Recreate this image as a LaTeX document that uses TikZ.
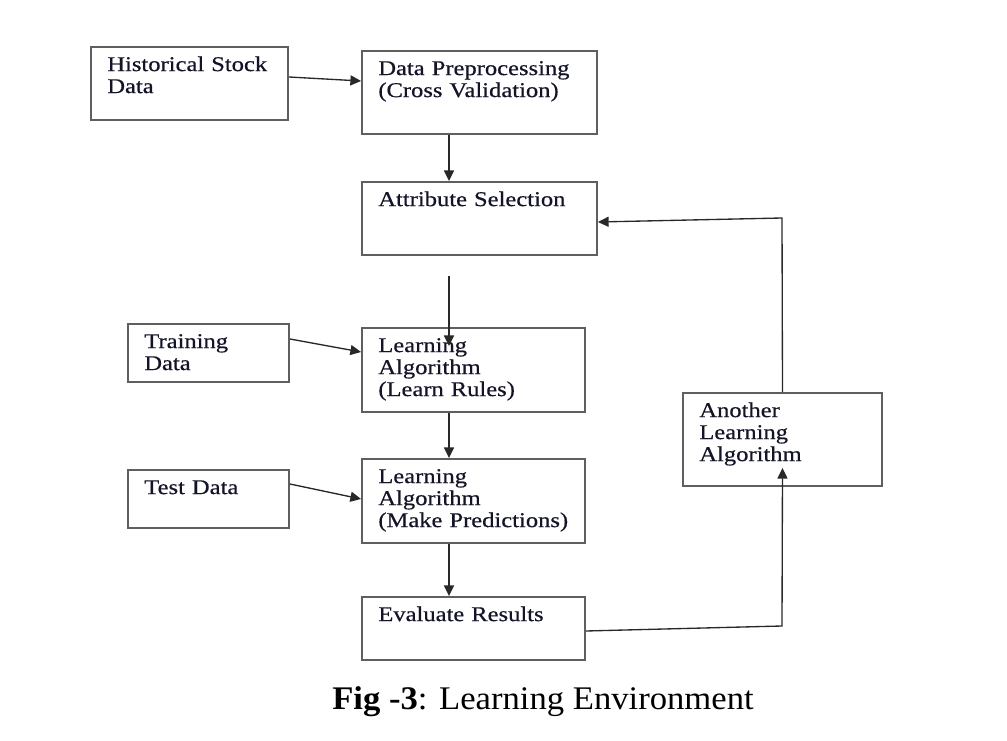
\documentclass[tikz,border=0pt]{standalone}
\usepackage{fontspec}
\setmainfont{Liberation Serif}[FakeStretch=1.17,FakeBold=0.5]
\newfontfamily\capfont{Liberation Serif}[FakeStretch=1.05]
\usetikzlibrary{arrows.meta,fit}
\begin{document}
\begin{tikzpicture}[x=0.75pt,y=-0.75pt,
  box/.style={draw={rgb,255:red,95;green,95;blue,95},line width=1.4pt,inner sep=0pt},
  lbl/.style={anchor=base west,align=left,text width=5.5cm,inner sep=0pt,
    font=\fontsize{15.75}{16.5}\selectfont,text={rgb,255:red,20;green,20;blue,40}},
  arr/.style={draw={rgb,255:red,40;green,40;blue,40},line width=1pt,
    -{Triangle[length=8pt,width=7.5pt]}},
  captext/.style={anchor=base,inner sep=0pt,font=\capfont\fontsize{24.75}{28}\selectfont}]
\useasboundingbox[fill=white] (0,0) rectangle (1007,741);
% boxes
\node[box,fit={(91,47) (288,120)}] (b1) {};
\node[box,fit={(362,51) (597,134)}] (b2) {};
\node[box,fit={(362,182) (597,255)}] (b3) {};
\node[box,fit={(128,324) (289,382)}] (b4) {};
\node[box,fit={(362,328) (585,412)}] (b5) {};
\node[box,fit={(128,470) (289,528)}] (b6) {};
\node[box,fit={(362,459) (585,543)}] (b7) {};
\node[box,fit={(362,597) (585,660)}] (b8) {};
\node[box,fit={(683,393) (882,486)}] (b9) {};
% labels
\node[lbl] (t1) at ([shift={(17,25)}]b1.north west) {Historical Stock\\Data};
\node[lbl] (t2) at ([shift={(17,25)}]b2.north west) {Data Preprocessing\\(Cross Validation)};
\node[lbl] (t3) at ([shift={(17,25)}]b3.north west) {Attribute Selection};
\node[lbl] (t4) at ([shift={(17,25)}]b4.north west) {Training\\Data};
\node[lbl] (t5) at ([shift={(17,25)}]b5.north west) {Learning\\Algorithm\\(Learn Rules)};
\node[lbl] (t6) at ([shift={(17,25)}]b6.north west) {Test Data};
\node[lbl] (t7) at ([shift={(17,25)}]b7.north west) {Learning\\Algorithm\\(Make Predictions)};
\node[lbl] (t8) at ([shift={(17,25)}]b8.north west) {Evaluate Results};
\node[lbl] (t9) at ([shift={(17,25)}]b9.north west) {Another\\Learning\\Algorithm};
% connectors
\draw[arr] ([shift={(0,-6.5)}]b1.east) -- ([shift={(0,-11.5)}]b2.west);
\draw[arr] ([shift={(-30.5,0)}]b2.south) -- ([shift={(-30.5,0)}]b3.north);
\coordinate (c1) at ([shift={(-24.5,-51)}]b5.north);
\draw[arr] (c1) -- ([shift={(-24.5,19)}]b5.north);
\draw[arr] ([shift={(0,-14)}]b4.east) -- ([shift={(0,-18)}]b5.west);
\draw[arr] ([shift={(-24.5,0)}]b5.south) -- ([shift={(-24.5,0)}]b7.north);
\draw[arr] ([shift={(0,-15)}]b6.east) -- ([shift={(0,-2)}]b7.west);
\draw[arr] ([shift={(-24.5,0)}]b7.south) -- ([shift={(-24.5,0)}]b8.north);
\coordinate (c2) at (782,626);
\draw[arr] ([shift={(0,2.5)}]b8.east) -- (c2) -- ([shift={(0,-19)}]b9.south);
\coordinate (c3) at (782,218);
\draw[arr] (b9.north) -- (c3) -- ([shift={(0,3.5)}]b3.east);
% caption
\node[captext] (cap) at (543,709) {\textbf{Fig -3}: Learning Environment};
\end{tikzpicture}
\end{document}
